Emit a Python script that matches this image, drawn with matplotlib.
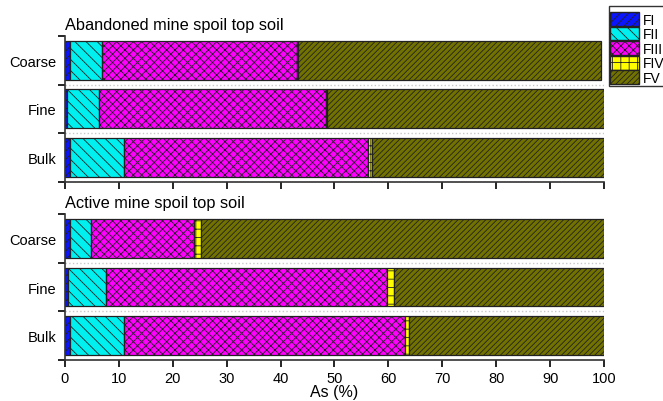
import numpy as np
import matplotlib.pyplot as plt
from matplotlib.patches import Patch

plt.rcParams['font.family'] = ['Liberation Sans', 'DejaVu Sans']
plt.rcParams['hatch.linewidth'] = 0.6

# Fracionamento do As (%) por tamanho de particula
classes = ['Bulk', 'Fine', 'Coarse']
fracoes = ['FI', 'FII', 'FIII', 'FIV', 'FV']

# solo da mina abandonada (Bulk, Fine, Coarse)
aband_FI = [0.9, 0.4, 0.9]
aband_FII = [10.1, 5.9, 6.0]
aband_FIII = [45.2, 42.1, 36.1]
aband_FIV = [0.8, 0.3, 0.3]
aband_FV = [43.0, 51.3, 56.2]

# solo da mina ativa (Bulk, Fine, Coarse)
ativa_FI = [0.9, 0.6, 0.9]
ativa_FII = [10.0, 7.0, 4.0]
ativa_FIII = [52.1, 52.1, 19.1]
ativa_FIV = [0.9, 1.3, 1.2]
ativa_FV = [36.1, 39.0, 74.8]

cores = ['#0a14ff', '#00f0f0', '#ff00ff', '#ffff00', '#727200']
hachuras = ['////', '\\\\\\', 'xxxx', '++', '//////']
borda = '#222222'

fig = plt.figure(figsize=(6.63, 4.02), dpi=100)
ax1 = fig.add_axes([0.098, 0.545, 0.813, 0.363])
ax2 = fig.add_axes([0.098, 0.102, 0.813, 0.363])


def painel(ax, dados, titulo, mostra_x):
    y = np.arange(len(classes))
    esquerda = np.zeros(len(classes))
    for vals, cor, hach in zip(dados, cores, hachuras):
        ax.barh(y, vals, left=esquerda, height=0.8, color=cor,
                edgecolor=borda, hatch=hach, linewidth=0.9)
        esquerda = esquerda + np.array(vals)
    for yy in [0.5, 1.5]:
        ax.plot([0, 100], [yy, yy], ls=':', color='#c8c8c8', lw=1.0)
    ax.set_xlim(0, 100)
    ax.set_ylim(-0.5, 2.5)
    ax.set_xticks(np.arange(0, 101, 10))
    ax.set_yticks([-0.5, 0.5, 1.5, 2.5])
    ax.set_yticklabels([])
    ax.set_yticks(y, minor=True)
    ax.set_yticklabels(classes, minor=True, fontsize=10.5)
    ax.tick_params(axis='y', which='minor', length=0, pad=6)
    ax.tick_params(axis='y', which='major', length=5, width=1.2)
    ax.tick_params(axis='x', length=5, width=1.2, labelsize=10.5, pad=3)
    if not mostra_x:
        ax.set_xticklabels([])
    for s in ['top', 'right']:
        ax.spines[s].set_visible(False)
    for s in ['left', 'bottom']:
        ax.spines[s].set_linewidth(1.2)
        ax.spines[s].set_color('#333333')
    ax.text(0, 1.025, titulo, transform=ax.transAxes, fontsize=11.8,
            ha='left', va='bottom')


painel(ax1, [aband_FI, aband_FII, aband_FIII, aband_FIV, aband_FV],
       'Abandoned mine spoil top soil', False)
painel(ax2, [ativa_FI, ativa_FII, ativa_FIII, ativa_FIV, ativa_FV],
       'Active mine spoil top soil', True)
ax2.set_xlabel('As (%)', fontsize=11.5, va='center')
ax2.xaxis.set_label_coords(0.5, -0.215)

handles = [Patch(facecolor=c, edgecolor=borda, hatch=h, label=f)
           for c, h, f in zip(cores, hachuras, fracoes)]
fig.legend(handles=handles, loc='upper left', bbox_to_anchor=(0.919, 0.982),
           fontsize=10, handlelength=2.1, handleheight=1.15, labelspacing=0.0,
           borderpad=0.05, borderaxespad=0, handletextpad=0.3,
           title=' ', title_fontsize=4, fancybox=False,
           edgecolor='#333333', framealpha=1)

plt.savefig('out.png', dpi=100)
